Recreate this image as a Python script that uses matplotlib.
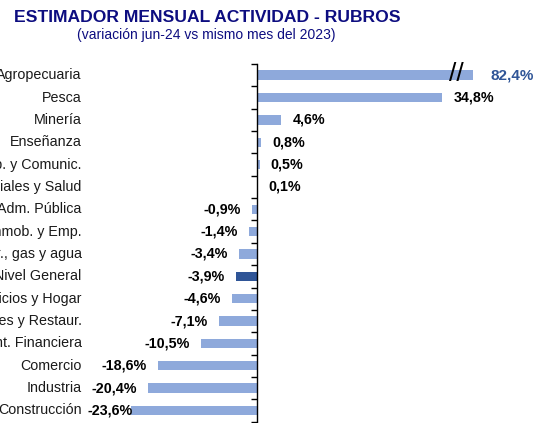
#!/usr/bin/env python3

# Estimador mensual de actividad por rubros
# Usage:
#   $ python3 plot.py

import matplotlib
matplotlib.use('Agg')
import matplotlib.pyplot as plt
import numpy as np


rubros = [
  'Agropecuaria',
  'Pesca',
  'Minería',
  'Enseñanza',
  'Transp. y Comunic.',
  'Serv. Sociales y Salud',
  'Adm. Pública',
  'Act. Inmob. y Emp.',
  'Electr., gas y agua',
  'Nivel General',
  'Otros Servicios y Hogar',
  'Hoteles y Restaur.',
  'Int. Financiera',
  'Comercio',
  'Industria',
  'Construcción',
]
variacion = [82.4, 34.8, 4.6, 0.8, 0.5, 0.1, -0.9, -1.4, -3.4, -3.9,
             -4.6, -7.1, -10.5, -18.6, -20.4, -23.6]

# Bars longer than this are cut with an axis break
corte = 40.5


def fmt(v):
  return ('%.1f%%' % v).replace('.', ',')


def main():

  plt.rcParams['font.family'] = ['Liberation Sans', 'DejaVu Sans']

  light = '#8EA9DB'
  dark = '#2F5597'
  navy = '#0D0D80'

  W, H = 543, 423
  fig = plt.figure(figsize=(W / 100, H / 100), dpi=100)

  # Axes placed in pixels: left edge next to labels, spine at value 0
  left_px, right_px = 88, 543
  top_px, bot_px = 64, 421.6
  ax = fig.add_axes([left_px / W, (H - bot_px) / H,
                     (right_px - left_px) / W, (bot_px - top_px) / H])

  n = len(rubros)
  y = np.arange(n)
  vals = np.array(variacion)
  shown = np.minimum(vals, corte)
  colors = [dark if r == 'Nivel General' else light for r in rubros]

  ax.barh(y, shown, height=0.42, color=colors)

  ax.set_xlim(-31.7, 53.7)
  ax.set_ylim(n - 0.5, -0.5)

  for s in ['top', 'right', 'bottom']:
    ax.spines[s].set_visible(False)
  ax.spines['left'].set_position(('data', 0))
  ax.spines['left'].set_linewidth(1.0)
  ax.set_xticks([])

  # tick marks between categories, labels drawn separately
  ax.set_yticks([])
  ax.set_yticks(np.arange(n + 1) - 0.5, minor=True)
  ax.tick_params(axis='y', which='minor', direction='out', length=4.5,
                 width=1.0, labelleft=False)

  for i, r in enumerate(rubros):
    ax.annotate(r, (0, y[i]), xycoords=ax.get_yaxis_transform(),
                xytext=(-4.5, 0), textcoords='offset points', ha='right',
                va='center', fontsize=10.3, color='#1a1a1a',
                annotation_clip=False)

  for i, v in enumerate(vals):
    if v > corte:
      ax.annotate(fmt(v), (shown[i], y[i]), xytext=(13, 0),
                  textcoords='offset points', ha='left', va='center',
                  fontsize=11, color=dark, fontweight='bold')
      # axis break marks on the long bar
      ax.text(corte - 3.1, y[i] - 0.05, '//', ha='center', va='center',
              fontsize=19, color='black')
    elif v >= 0:
      ax.annotate(fmt(v), (shown[i], y[i]), xytext=(8, 0),
                  textcoords='offset points', ha='left', va='center',
                  fontsize=10.3, color='black', fontweight='bold')
    else:
      # the longest negative bar leaves no room: label touches the bar
      off = -8 if v > -22 else 1
      ax.annotate(fmt(v), (shown[i], y[i]), xytext=(off, 0),
                  textcoords='offset points', ha='right', va='center',
                  fontsize=10.3, color='black', fontweight='bold')

  fig.text(207 / W, 1 - 17 / H, 'ESTIMADOR MENSUAL ACTIVIDAD - RUBROS',
           ha='center', va='center', fontsize=12.6, fontweight='bold',
           color=navy)
  fig.text(206.5 / W, 1 - 35.5 / H, '(variación jun-24 vs mismo mes del 2023)',
           ha='center', va='center', fontsize=10, color=navy)

  fig.savefig('out.png', dpi=100)


if __name__ == '__main__':
  main()
